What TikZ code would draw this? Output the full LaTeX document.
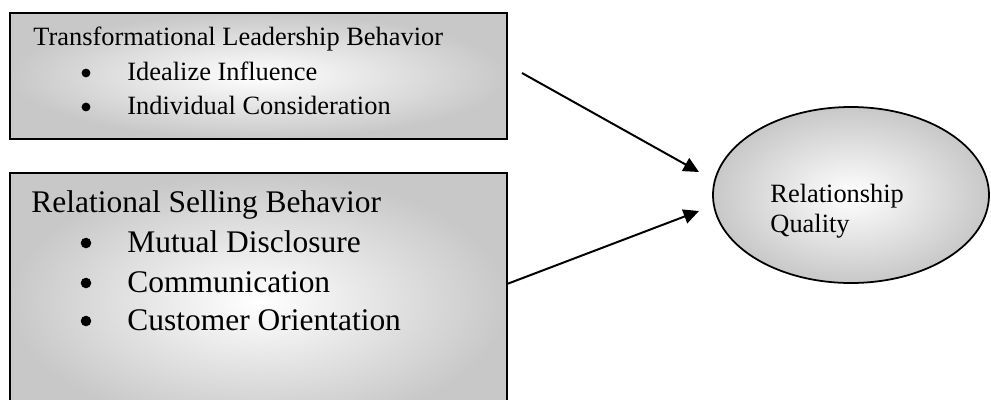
\documentclass[tikz,border=0pt]{standalone}
\usepackage{fontspec}
\setmainfont{Liberation Serif}
\usetikzlibrary{arrows.meta,shapes.geometric}
\tikzset{
  shadebox/.style={draw=black, line width=1pt, inner color=white, outer color={rgb,255:red,200;green,200;blue,200}},
  smalltext/.style={anchor=base west, inner sep=0pt, font=\fontsize{12}{14}\selectfont},
  bigtext/.style={anchor=base west, inner sep=0pt, font=\fontsize{14.3}{17}\selectfont},
  bulsmall/.style={circle, fill=black, inner sep=0pt, minimum size=4pt},
  bulbig/.style={circle, fill=black, inner sep=0pt, minimum size=4.8pt},
  arr/.style={line width=0.9pt, -{Triangle[length=7pt,width=6.6pt]}}
}
\begin{document}
\begin{tikzpicture}[x=0.4545pt, y=-0.4545pt]
\useasboundingbox (0,0) rectangle (991,399);
% box 1
\path[shadebox] (10,13) rectangle (507,139);
\node[smalltext] (t1) at (33,45) {Transformational Leadership Behavior};
\node[bulsmall] (b11) at (86,73) {};
\node[smalltext] (t11) at (127,80) {Idealize Influence};
\node[bulsmall] (b12) at (86,107) {};
\node[smalltext] (t12) at (127,114) {Individual Consideration};
% box 2
\path[shadebox] (10,173) rectangle (507,430);
\node[bigtext] (t2) at (31,212) {Relational Selling Behavior};
\node[bulbig] (b21) at (86,243) {};
\node[bigtext] (t21) at (127,252) {Mutual Disclosure};
\node[bulbig] (b22) at (86,283) {};
\node[bigtext] (t22) at (127,292) {Communication};
\node[bulbig] (b23) at (86,321) {};
\node[bigtext] (t23) at (127,330) {Customer Orientation};
% ellipse
\node[ellipse, draw=black, line width=0.8pt, minimum width=276*0.4545pt, minimum height=176*0.4545pt, inner color=white, outer color={rgb,255:red,200;green,200;blue,200}] (rq) at (851,195) {};
\node[smalltext] (rq1) at (770,202) {Relationship};
\node[smalltext] (rq2) at (770,232) {Quality};
% arrows
\coordinate (s1) at (522,73);
\coordinate (e1) at (699,172);
\coordinate (s2) at (507,284);
\coordinate (e2) at (699,211);
\draw[arr] (s1) -- (e1);
\draw[arr] (s2) -- (e2);
\end{tikzpicture}
\end{document}
